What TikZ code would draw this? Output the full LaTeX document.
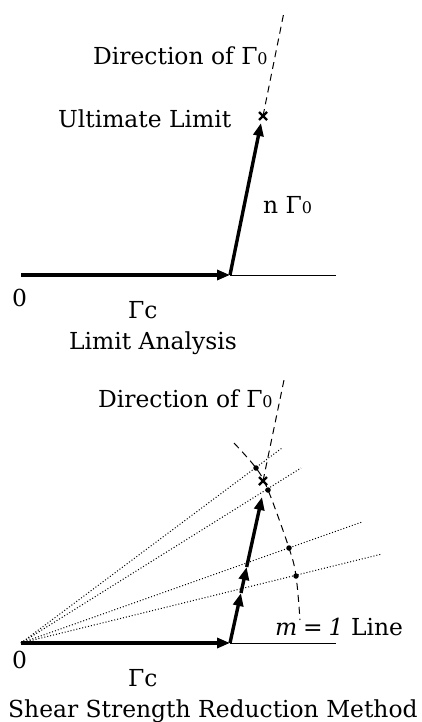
\documentclass[tikz,border=0pt]{standalone}
\usepackage{fontspec}
\setmainfont{DejaVu Serif}
\usetikzlibrary{arrows.meta,calc}
\newcommand{\Gz}{Γ{\fontsize{16}{16}\selectfont 0}}
\tikzset{
  thickarrow/.style={line width=3.4pt, -{Triangle[length=13pt,width=10pt]}},
  thinline/.style={line width=1pt},
  dashline/.style={line width=1pt, dash pattern=on 7pt off 5pt},
  dotline/.style={line width=1pt, dash pattern=on 1pt off 2pt},
  xmark/.style={line width=2.2pt},
  lbl/.style={anchor=base west, inner sep=0pt, font=\fontsize{23.4}{23.4}\selectfont},
  dotmark/.style={fill=black, circle, inner sep=0pt, minimum size=5.5pt}
}
\begin{document}
\begin{tikzpicture}[x=1pt,y=-1pt]
\useasboundingbox (0,0) rectangle (422,722);
% ---------- Top: Limit Analysis ----------
\coordinate (O1) at (21,275);
\coordinate (B1) at (230,275);
\coordinate (E1) at (336,275);
\coordinate (T1) at (261,123);
\coordinate (X1) at (263,116);
\coordinate (D1) at (284,12);
\draw[thinline] (B1) -- (E1);
\draw[thickarrow] (O1) -- (B1);
\draw[thickarrow] (B1) -- (T1);
\draw[dashline] (X1) -- (D1);
\draw[xmark] ($(X1)+(-4,-4)$) -- ($(X1)+(4,4)$);
\draw[xmark] ($(X1)+(-4,4)$) -- ($(X1)+(4,-4)$);
\node[lbl] (dir1) at (93,65) {Direction of \Gz};
\node[lbl] (ult) at (58,128) {Ultimate Limit};
\node[lbl] (ng) at (263,213) {n \Gz};
\node[lbl] (z1) at (12,306) {0};
\node[lbl] (gc1) at (128,318) {Γc};
\node[lbl] (la) at (69,349) {Limit Analysis};
% ---------- Bottom: Shear Strength Reduction ----------
\coordinate (O2) at (21,643);
\coordinate (B2) at (230,643);
\coordinate (E2) at (336,643);
\coordinate (M1) at (240.96,593);
\coordinate (M2) at (246.66,567);
\coordinate (T2) at (262,497);
\coordinate (X2) at (263,481);
\coordinate (D2) at (284,380);
\coordinate (R1) at (282,448);
\coordinate (R2) at (301,468);
\coordinate (R3) at (362,522);
\coordinate (R4) at (382,554);
\draw[dotline] (O2) -- (R1);
\draw[dotline] (O2) -- (R2);
\draw[dotline] (O2) -- (R3);
\draw[dotline] (O2) -- (R4);
\draw[thinline] (B2) -- (E2);
\draw[thickarrow] (O2) -- (B2);
\draw[thickarrow] (B2) -- (M1);
\draw[thickarrow] (M1) -- (M2);
\draw[thickarrow] (M2) -- (T2);
\draw[dashline] (X2) -- (D2);
\draw[dashline] plot[smooth, tension=0.6] coordinates {(234,443) (256,468) (268,490) (289,548) (296,576) (300,620)};
\node[dotmark] (p1) at (256,468) {};
\node[dotmark] (p2) at (268,490) {};
\node[dotmark] (p3) at (289,548) {};
\node[dotmark] (p4) at (296,576) {};
\draw[xmark] ($(X2)+(-4,-4)$) -- ($(X2)+(4,4)$);
\draw[xmark] ($(X2)+(-4,4)$) -- ($(X2)+(4,-4)$);
\node[lbl] (dir2) at (98,407) {Direction of \Gz};
\node[lbl] (mline) at (275,635) {\textit{m}\hspace{0.25em}=\hspace{0.25em}\textit{1} Line};
\node[lbl] (z2) at (12,668) {0};
\node[lbl] (gc2) at (128,686) {Γc};
\node[lbl] (ssr) at (8,717) {Shear Strength Reduction Method};
\end{tikzpicture}
\end{document}
